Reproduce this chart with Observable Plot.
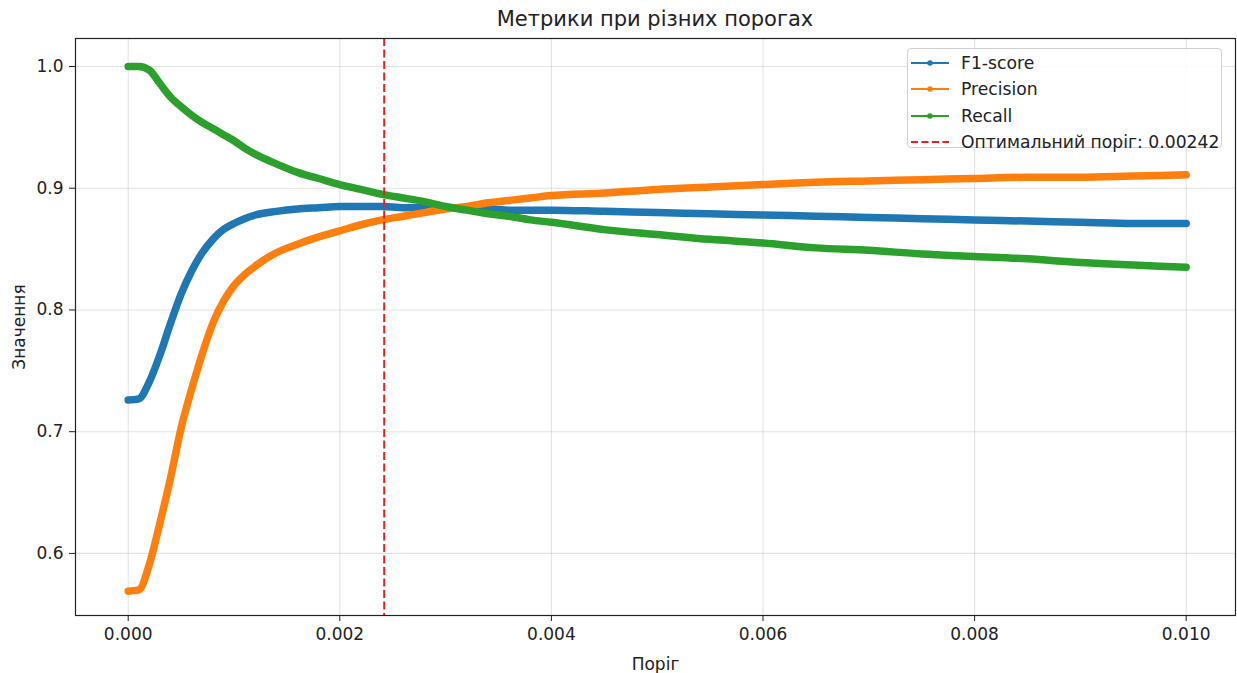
<!DOCTYPE html>
<html>
<head>
<meta charset="utf-8">
<script src="https://cdn.jsdelivr.net/npm/d3@7"></script>
<script src="https://cdn.jsdelivr.net/npm/@observablehq/plot@0.6"></script>
<style>
  body { margin: 0; background: #fff; font-family: "DejaVu Sans", sans-serif; }
  #wrap { position: relative; width: 1237px; height: 673px; overflow: hidden; }
  #title { position: absolute; left: 75px; width: 1160px; top: 7px; text-align: center; font-size: 21px; line-height: 25px; color: #222; }
  #chart { position: absolute; left: 0; top: 30px; }
  #legend { position: absolute; left: 907px; top: 48px; width: 315px; height: 100px; box-sizing: border-box;
            border: 1px solid #d0d0d0; border-radius: 4px; background: rgba(255,255,255,0.85); }
  .item { position: absolute; left: 0; height: 20px; display: flex; align-items: center; font-size: 17.2px; color: #222; white-space: nowrap; }
  .item svg { margin-left: 2px; margin-right: 11px; }
</style>
</head>
<body>
<div id="wrap">
  <div id="title">Метрики при різних порогах</div>
  <div id="chart"></div>
  <div id="legend"></div>
</div>
<script>
// ---- data ----
const thresholds = [0, 0.0001, 0.0002, 0.0003, 0.0004, 0.0005, 0.0006, 0.0007, 0.0008, 0.0009, 0.001,
  0.0011, 0.0012, 0.0014, 0.0016, 0.0018, 0.002, 0.0022, 0.0024, 0.0026, 0.0028, 0.003, 0.0032, 0.0034, 0.0036,
  0.0038, 0.004, 0.0045, 0.005, 0.0055, 0.006, 0.0065, 0.007, 0.0075, 0.008, 0.0085, 0.009, 0.0095, 0.01];

const f1Score = [0.726, 0.727, 0.741, 0.763, 0.789, 0.813, 0.832, 0.847, 0.858, 0.866, 0.871,
  0.875, 0.878, 0.881, 0.883, 0.884, 0.885, 0.885, 0.885, 0.884, 0.884, 0.884, 0.883, 0.883, 0.882,
  0.882, 0.882, 0.881, 0.880, 0.879, 0.878, 0.877, 0.876, 0.875, 0.874, 0.873, 0.872, 0.871, 0.871];

const precision = [0.569, 0.570, 0.591, 0.625, 0.662, 0.703, 0.735, 0.764, 0.789, 0.807, 0.820,
  0.829, 0.836, 0.847, 0.854, 0.860, 0.865, 0.870, 0.874, 0.877, 0.880, 0.883, 0.885, 0.888, 0.890,
  0.892, 0.894, 0.896, 0.899, 0.901, 0.903, 0.905, 0.906, 0.907, 0.908, 0.909, 0.909, 0.910, 0.911];

const recall = [1.000, 1.000, 0.997, 0.986, 0.975, 0.967, 0.960, 0.954, 0.949, 0.944, 0.939,
  0.933, 0.928, 0.920, 0.913, 0.908, 0.903, 0.899, 0.895, 0.892, 0.889, 0.885, 0.882, 0.879, 0.877,
  0.874, 0.872, 0.866, 0.862, 0.858, 0.855, 0.851, 0.849, 0.846, 0.844, 0.842, 0.839, 0.837, 0.835];

const seriesNames = ["F1-score", "Precision", "Recall"];
const seriesColors = ["#1f77b4", "#ff7f0e", "#2ca02c"];
const optimalThreshold = 0.00242;
const optimalLabel = "Оптимальний поріг: 0.00242";
const xTicks = [0, 0.002, 0.004, 0.006, 0.008, 0.010];
const yTicks = [0.6, 0.7, 0.8, 0.9, 1.0];
const xLabel = "Поріг";
const yLabel = "Значення";

// ---- build tables ----
const seriesValues = [f1Score, precision, recall];
const tables = seriesValues.map(vals => thresholds.map((t, i) => ({t, v: vals[i]})));

const lineMarks = tables.map((tbl, k) => Plot.line(tbl, {
  x: "t", y: "v", stroke: seriesColors[k], strokeWidth: 7.5,
  strokeLinejoin: "round", strokeLinecap: "round", curve: "monotone-x"
}));

const chart = Plot.plot({
  width: 1237,
  height: 643,
  marginTop: 8,
  marginBottom: 58,
  marginLeft: 75,
  marginRight: 2,
  style: {fontFamily: "DejaVu Sans, sans-serif", fontSize: "17px", color: "#222", background: "#fff"},
  x: {domain: [-0.000498, 0.010466]},
  y: {domain: [0.549, 1.023]},
  marks: [
    Plot.gridX(xTicks, {stroke: "#b0b0b0", strokeOpacity: 0.35, strokeWidth: 1.1}),
    Plot.gridY(yTicks, {stroke: "#b0b0b0", strokeOpacity: 0.35, strokeWidth: 1.1}),
    Plot.axisX(xTicks, {tickFormat: d3.format(".3f"), tickSize: 6, tickPadding: 6,
      label: xLabel, labelAnchor: "center", labelArrow: "none", labelOffset: 54, fontSize: 17}),
    Plot.axisY(yTicks, {tickFormat: d3.format(".1f"), tickSize: 6, tickPadding: 6,
      label: yLabel, labelAnchor: "center", labelArrow: "none", labelOffset: 63, fontSize: 17}),
    ...lineMarks,
    Plot.ruleX([optimalThreshold], {stroke: "#ee1c1c", strokeWidth: 2, strokeDasharray: "8,3.5"}),
    Plot.frame({stroke: "#222", strokeWidth: 1.2})
  ]
});
document.getElementById("chart").appendChild(chart);

// ---- legend ----
const legend = document.getElementById("legend");
const entries = seriesNames.map((n, k) => ({name: n, color: seriesColors[k], dashed: false}))
  .concat([{name: optimalLabel, color: "#ee1c1c", dashed: true}]);
entries.forEach((e, i) => {
  const div = document.createElement("div");
  div.className = "item";
  div.style.top = (4 + i * 26.3) + "px";
  const sw = e.dashed
    ? `<svg width="40" height="10"><line x1="1" y1="5" x2="39" y2="5" stroke="${e.color}" stroke-width="2" stroke-dasharray="7,3.5"/></svg>`
    : `<svg width="40" height="10"><line x1="1" y1="5" x2="39" y2="5" stroke="${e.color}" stroke-width="2"/><circle cx="20" cy="5" r="2.8" fill="${e.color}"/></svg>`;
  div.innerHTML = sw + `<span>${e.name}</span>`;
  legend.appendChild(div);
});
</script>
</body>
</html>
